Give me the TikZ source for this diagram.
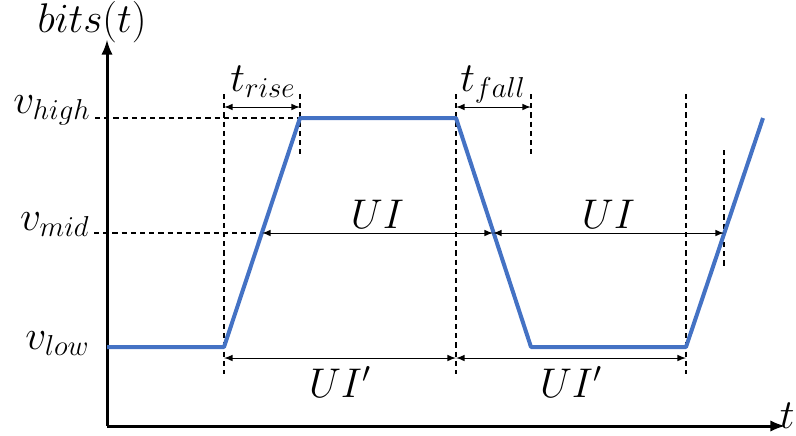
\documentclass[tikz,border=0pt]{standalone}
\definecolor{sigblue}{RGB}{68,114,196}

\begin{document}
\begin{tikzpicture}[x=0.5pt,y=-0.5pt]
    \tikzset{
        sig/.style={line width=2pt,sigblue,line join=round},
        guide/.style={dash pattern=on 2.6pt off 2pt,line width=0.9pt},
        dim/.style={<->,>=latex,line width=0.5pt},
        axis/.style={line width=1.5pt,-latex},
        lbl/.style={font=\fontsize{20.74}{25}\selectfont,inner sep=1pt}
    }
    \useasboundingbox (0,0) rectangle (796,435);
    % axes
    \coordinate (o) at (107,426);
    \coordinate (ytop) at (107,40);
    \coordinate (xend) at (785,426);
    \draw[axis] (o) -- (ytop);
    \draw[axis] (o) -- (xend);
    \node[lbl] (ylab) at (92,22) {$bits(t)$};
    \node[lbl,inner sep=0pt,anchor=base east] (xlab) at (795,428) {$t$};
    % waveform corners
    \coordinate (p0) at (107,347);
    \coordinate (p1) at (224,347);
    \coordinate (p2) at (300,118);
    \coordinate (p3) at (456,118);
    \coordinate (p4) at (531,347);
    \coordinate (p5) at (686,347);
    \coordinate (p6) at (763,118);
    % mid crossings
    \coordinate (m1) at (262,233);
    \coordinate (m2) at (493,233);
    \coordinate (m3) at (724,233);
    % levels
    \node[lbl,anchor=base east] (vhigh) at (93,113) {$v_{high}$};
    \node[lbl,anchor=base east] (vmid) at (92,230) {$v_{mid}$};
    \node[lbl,anchor=base east] (vlow) at (92,349) {$v_{low}$};
    \draw[guide] (95,118) -- (p2);
    \draw[guide] (94,233) -- (m1);
    % vertical guides
    \foreach \x in {224,456,686}
    \draw[guide] (\x,94) -- (\x,374);
    \foreach \x/\yb in {300/156,531/158}
    \draw[guide] (\x,94) -- (\x,\yb);
    \draw[guide] (724,150) -- (724,268);
    % signal
    \draw[sig] (p0) -- (p1) -- (p2) -- (p3) -- (p4) -- (p5) -- (p6);
    % rise and fall times
    \coordinate (r1) at (224,107);
    \coordinate (r2) at (300,107);
    \coordinate (f1) at (456,107);
    \coordinate (f2) at (531,107);
    \draw[dim] (r1) -- (r2);
    \draw[dim] (f1) -- (f2);
    \node[lbl,anchor=base] (trise) at (263,91) {$t_{rise}$};
    \node[lbl,anchor=base] (tfall) at (493,91) {$t_{fall}$};
    % unit intervals
    \draw[dim] (m1) -- node[lbl,above=1pt] (ui1) {$UI$} (m2);
    \draw[dim] (m2) -- node[lbl,above=1pt] (ui2) {$UI$} (m3);
    \coordinate (u1) at (224,358);
    \coordinate (u2) at (456,358);
    \coordinate (u3) at (686,358);
    \draw[dim] (u1) -- node[lbl,below=3pt] (uip1) {$UI'$} (u2);
    \draw[dim] (u2) -- node[lbl,below=3pt] (uip2) {$UI'$} (u3);
\end{tikzpicture}
\end{document}
